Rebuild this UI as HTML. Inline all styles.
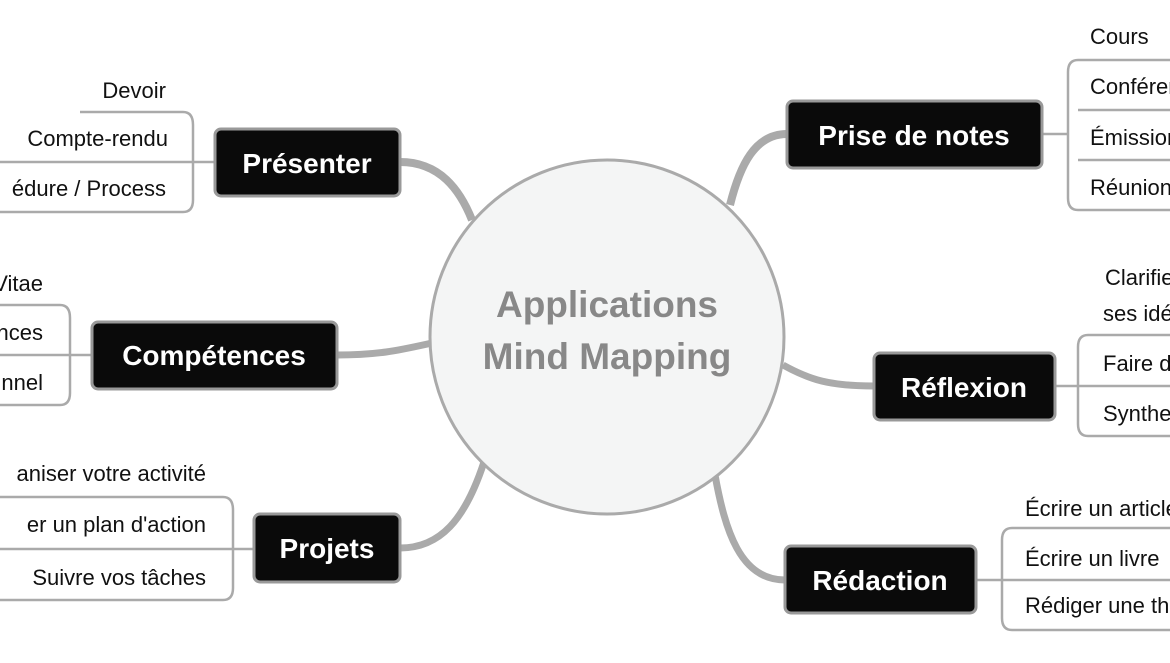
<!DOCTYPE html>
<html><head><meta charset="utf-8"><style>
html,body{margin:0;padding:0;background:#fff;}
svg{display:block;}
text{font-family:"Liberation Sans","DejaVu Sans",sans-serif;}
.sub{font-size:22px;fill:#111;}
.nd{font-size:28px;font-weight:bold;fill:#fff;}
.ln{fill:none;stroke:#aaa;stroke-width:2.5;}
.cn{fill:none;stroke:#aaa;}
.box{fill:#0a0a0a;stroke:#999;stroke-width:3;}
</style></head><body>
<svg width="1170" height="663" viewBox="0 0 1170 663">
<path class="cn" stroke-width="8" d="M400 162 C440 162 460 190 472 220"/>
<path class="cn" stroke-width="8" d="M787 134 C755 134 740 165 730 205"/>
<path class="cn" stroke-width="7" d="M337 355 C380 355 400 350 432 343"/>
<path class="cn" stroke-width="7" d="M874 386 C830 386 810 380 783 365"/>
<path class="cn" stroke-width="7" d="M400 548 C440 548 465 520 484 462"/>
<path class="cn" stroke-width="7" d="M785 580 C740 580 725 530 715 475"/>
<circle cx="607" cy="337" r="177" fill="#f4f5f5" stroke="#aaa" stroke-width="3"/>
<text x="607" y="317" text-anchor="middle" font-size="37" font-weight="bold" fill="#888">Applications</text>
<text x="607" y="369" text-anchor="middle" font-size="37" font-weight="bold" fill="#888">Mind Mapping</text>

<path class="ln" d="M80 112 H183 Q193 112 193 125 V200 Q193 212 183 212 H0"/>
<path class="ln" d="M0 162 H215"/>
<text class="sub" x="166" y="98" text-anchor="end">Devoir</text>
<text class="sub" x="168" y="146" text-anchor="end">Compte-rendu</text>
<text class="sub" x="166" y="196" text-anchor="end">édure / Process</text>
<rect class="box" x="215" y="129" width="185" height="67" rx="6"/>
<text class="nd" x="307" y="173" text-anchor="middle">Présenter</text>

<path class="ln" d="M0 305 H60 Q70 305 70 318 V393 Q70 405 60 405 H0"/>
<path class="ln" d="M0 355 H92"/>
<text class="sub" x="43" y="291" text-anchor="end">Vitae</text>
<text class="sub" x="43" y="340" text-anchor="end">nces</text>
<text class="sub" x="43" y="390" text-anchor="end">nnel</text>
<rect class="box" x="92" y="322" width="245" height="67" rx="6"/>
<text class="nd" x="214" y="365" text-anchor="middle">Compétences</text>

<path class="ln" d="M0 497 H223 Q233 497 233 510 V588 Q233 600 223 600 H0"/>
<path class="ln" d="M0 549 H254"/>
<text class="sub" x="206" y="481" text-anchor="end">aniser votre activité</text>
<text class="sub" x="206" y="532" text-anchor="end">er un plan d'action</text>
<text class="sub" x="206" y="585" text-anchor="end">Suivre vos tâches</text>
<rect class="box" x="254" y="514" width="146" height="68" rx="6"/>
<text class="nd" x="327" y="558" text-anchor="middle">Projets</text>

<path class="ln" d="M1170 60 H1078 Q1068 60 1068 72 V198 Q1068 210 1078 210 H1170"/>
<path class="ln" d="M1078 110 H1170 M1078 160 H1170"/>
<path class="ln" d="M1042 134 H1068"/>
<text class="sub" x="1090" y="44">Cours</text>
<text class="sub" x="1090" y="94">Conférences</text>
<text class="sub" x="1090" y="145">Émissions</text>
<text class="sub" x="1090" y="195">Réunions</text>
<rect class="box" x="787" y="101" width="255" height="67" rx="6"/>
<text class="nd" x="914" y="145" text-anchor="middle">Prise de notes</text>

<path class="ln" d="M1170 335 H1088 Q1078 335 1078 347 V424 Q1078 436 1088 436 H1170"/>
<path class="ln" d="M1055 386 H1170"/>
<text class="sub" x="1105" y="285">Clarifier</text>
<text class="sub" x="1103" y="321">ses idées</text>
<text class="sub" x="1103" y="371">Faire de</text>
<text class="sub" x="1103" y="421">Synthese</text>
<rect class="box" x="874" y="353" width="181" height="67" rx="6"/>
<text class="nd" x="964" y="397" text-anchor="middle">Réflexion</text>

<path class="ln" d="M1170 528 H1012 Q1002 528 1002 540 V618 Q1002 630 1012 630 H1170"/>
<path class="ln" d="M976 580 H1170"/>
<text class="sub" x="1025" y="516">Écrire un article</text>
<text class="sub" x="1025" y="566">Écrire un livre</text>
<text class="sub" x="1025" y="613">Rédiger une thèse</text>
<rect class="box" x="785" y="546" width="191" height="67" rx="6"/>
<text class="nd" x="880" y="590" text-anchor="middle">Rédaction</text>
</svg>
</body></html>
